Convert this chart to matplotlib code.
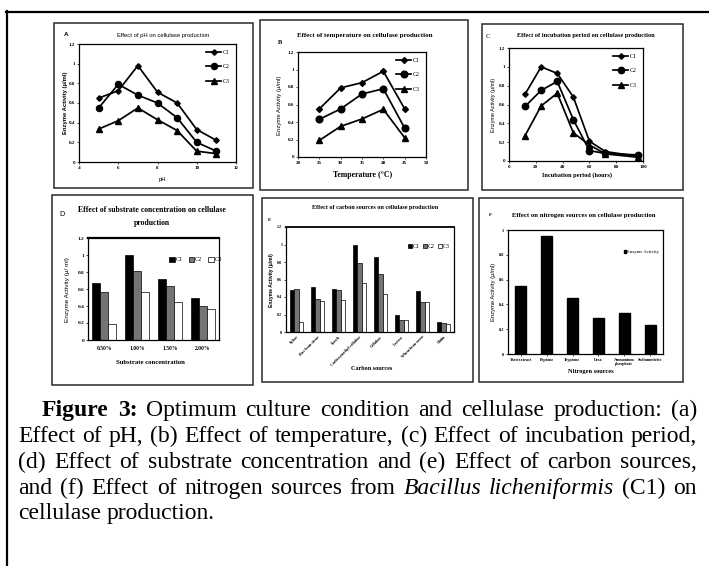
import matplotlib
matplotlib.use("Agg")
import matplotlib.pyplot as plt
from matplotlib.patches import Rectangle
from matplotlib.lines import Line2D
import numpy as np

# ---------------- data ----------------
ph = [5, 6, 7, 8, 9, 10, 11]
ph_c1 = [0.65, 0.725, 0.98, 0.71, 0.60, 0.33, 0.22]
ph_c2 = [0.55, 0.79, 0.68, 0.60, 0.45, 0.20, 0.11]
ph_c3 = [0.335, 0.42, 0.55, 0.43, 0.32, 0.11, 0.085]

temp = [25, 30, 35, 40, 45]
temp_c1 = [0.55, 0.79, 0.85, 0.98, 0.55]
temp_c2 = [0.43, 0.55, 0.72, 0.78, 0.33]
temp_c3 = [0.19, 0.35, 0.435, 0.545, 0.22]

hours = [12, 24, 36, 48, 60, 72, 96]
inc_c1 = [0.71, 1.0, 0.93, 0.68, 0.21, 0.10, 0.05]
inc_c2 = [0.58, 0.75, 0.845, 0.44, 0.11, 0.08, 0.065]
inc_c3 = [0.27, 0.585, 0.72, 0.30, 0.17, 0.075, 0.04]

substrate = ['0.50%', '1.00%', '1.50%', '2.00%']
sub_c1 = [0.67, 1.0, 0.715, 0.50]
sub_c2 = [0.57, 0.81, 0.63, 0.40]
sub_c3 = [0.19, 0.57, 0.45, 0.36]

carbon = ['Xylose', 'Rice bran straw', 'Starch', 'Carboxymethyl cellulose',
          'Cellulose', 'Lactose', 'Wheat bran straw', 'Chitin']
carb_c1 = [0.48, 0.52, 0.495, 0.99, 0.855, 0.195, 0.47, 0.115]
carb_c2 = [0.49, 0.38, 0.48, 0.79, 0.66, 0.135, 0.34, 0.10]
carb_c3 = [0.12, 0.35, 0.365, 0.555, 0.44, 0.14, 0.34, 0.09]

nitrogen = ['Yeastextract', 'Peptone', 'Tryptone', 'Urea',
            'Ammonium\nphosphate', 'Sodiumnitrite']
nit_activity = [0.545, 0.95, 0.45, 0.29, 0.333, 0.234]

series_names = ['C1', 'C2', 'C3']

# ---------------- figure ----------------
W, H = 709, 566
fig = plt.figure(figsize=(W / 100, H / 100), dpi=100)
fig.patch.set_facecolor('white')

SERIF = 'Liberation Serif'
SANS = 'Liberation Sans'


def fx(x):
    return x / W


def fy(y):
    return 1 - y / H


def add_axes_px(x0, y0, x1, y1):
    return fig.add_axes([x0 / W, 1 - y1 / H, (x1 - x0) / W, (y1 - y0) / H])


def frame_px(x0, y0, x1, y1, lw=1.1, color='#2a2a2a'):
    r = Rectangle((fx(x0), fy(y1)), (x1 - x0) / W, (y1 - y0) / H,
                  transform=fig.transFigure, fill=False, lw=lw, ec=color)
    fig.add_artist(r)


def txt(x, y, s, size=5, **kw):
    kw.setdefault('ha', 'center')
    kw.setdefault('va', 'center')
    kw.setdefault('family', SERIF)
    fig.text(fx(x), fy(y), s, fontsize=size, **kw)


def style_axes(ax, fs=3.6):
    for sp in ax.spines.values():
        sp.set_linewidth(0.9)
        sp.set_color('black')
    ax.tick_params(direction='out', length=1.5, width=0.5, labelsize=fs, pad=1.2)
    for lab in ax.get_xticklabels() + ax.get_yticklabels():
        lab.set_family(SERIF)
        lab.set_fontweight('bold')


# outer frame (top and left visible)
fig.add_artist(Line2D([fx(6), fx(709)], [fy(11.5), fy(11.5)], transform=fig.transFigure,
                      color='black', lw=1.6))
fig.add_artist(Line2D([fx(6.5), fx(6.5)], [fy(11), fy(566)], transform=fig.transFigure,
                      color='black', lw=1.6))

# panel frames
frame_px(54, 23, 253, 188)
frame_px(260, 20, 468, 190)
frame_px(482, 24, 683, 190)
frame_px(52, 195, 253, 385)
frame_px(262, 198, 473, 382)
frame_px(479, 198, 683, 382)


def line_panel(ax, x, ys, xlim, xticks, msizes):
    markers = ['D', 'o', '^']
    for y, m, ms, name in zip(ys, markers, msizes, series_names):
        ax.plot(x, y, color='black', lw=1.25, marker=m, ms=ms, label=name)
    ax.set_xlim(*xlim)
    ax.set_xticks(xticks)
    ax.set_ylim(0, 1.2)
    ax.set_yticks([0, 0.2, 0.4, 0.6, 0.8, 1.0, 1.2])
    ax.set_yticklabels(['0', '0.2', '0.4', '0.6', '0.8', '1', '1.2'])
    ax.set_xticklabels([str(v) for v in xticks])
    style_axes(ax)
    ax.legend(loc='upper right', frameon=False, handlelength=2.6,
              labelspacing=1.6, handletextpad=0.3, borderaxespad=0.6,
              prop={'family': SERIF, 'size': 4.2})


# ---------- A ----------
axA = add_axes_px(79, 44, 236, 162)
line_panel(axA, ph, [ph_c1, ph_c2, ph_c3], (4, 12), [4, 6, 8, 10, 12], [2.8, 4.4, 4.2])
txt(163, 35, 'Effect of pH on cellulase production', 4.2, family=SANS)
txt(66, 34, 'A', 4.5, family=SANS, fontweight='bold')
txt(162, 179, 'pH', 4.2, family=SANS)
txt(65.5, 103, 'Enzyme Activity (μ/ml)', 4.2, family=SANS, fontweight='bold', rotation=90)

# ---------- B ----------
axB = add_axes_px(298, 52, 426, 157)
line_panel(axB, temp, [temp_c1, temp_c2, temp_c3], (20, 50), [20, 25, 30, 35, 40, 45, 50],
           [3.0, 4.8, 4.4])
txt(365, 35, 'Effect of temperature on cellulase production', 5.0, fontweight='bold')
txt(280, 43, 'B', 4.6, fontweight='bold')
txt(363, 175, 'Temperature (°C)', 5.6, fontweight='bold')
txt(280, 105, 'Enzyme Activity (μ/ml)', 4.3, family=SANS, rotation=90)

# ---------- C ----------
axC = add_axes_px(509, 48, 643, 161)
line_panel(axC, hours, [inc_c1, inc_c2, inc_c3], (0, 100), [0, 20, 40, 60, 80, 100],
           [2.8, 4.6, 4.4])
txt(586, 35, 'Effect of incubation period on cellulase production', 4.6, fontweight='bold')
txt(488, 36, 'C', 4.6, style='italic')
txt(577, 175, 'Incubation period (hours)', 4.6, fontweight='bold')
txt(493, 105, 'Enzyme Activity (μ/ml)', 4.0, family=SANS, rotation=90)


def bar_panel(ax, cats, ys, width):
    colors = ['black', '#747474', 'white']
    n = len(ys)
    x = np.arange(len(cats))
    for i, (y, c, name) in enumerate(zip(ys, colors, series_names[:n])):
        ax.bar(x + (i - (n - 1) / 2) * width, y, width, color=c, edgecolor='black',
               lw=0.5, label=name)
    ax.set_xlim(-0.5, len(cats) - 0.5)
    ax.set_xticks(x)
    style_axes(ax)


# ---------- D ----------
axD = add_axes_px(88, 238, 219, 340)
bar_panel(axD, substrate, [sub_c1, sub_c2, sub_c3], 0.245)
axD.set_ylim(0, 1.2)
axD.set_yticks([0, 0.2, 0.4, 0.6, 0.8, 1.0, 1.2])
axD.set_yticklabels(['0', '0.2', '0.4', '0.6', '0.8', '1', '1.2'], family=SERIF,
                    fontweight='bold', fontsize=3.8)
axD.set_xticklabels(substrate, family=SERIF, fontweight='bold', fontsize=4.0)
axD.tick_params(axis='x', pad=4, length=0)
axD.spines['top'].set_linewidth(1.6)
axD.legend(loc='center', bbox_to_anchor=(0.82, 0.79), ncol=3, frameon=False,
           handlelength=0.9, handleheight=0.9, handletextpad=0.1, columnspacing=1.0,
           prop={'family': SERIF, 'size': 4.4})
txt(152, 210, 'Effect of substrate concentration on cellulase', 5.6, fontweight='bold')
txt(152, 223, 'production', 5.6, fontweight='bold')
txt(62, 215, 'D', 5.2, family=SANS)
txt(150, 362, 'Substrate concentration', 4.8, fontweight='bold')
txt(67, 290, 'Enzyme Activity (μ/ ml)', 4.6, family=SANS, rotation=90)

# ---------- E ----------
axE = add_axes_px(286, 227, 454, 332)
bar_panel(axE, carbon, [carb_c1, carb_c2, carb_c3], 0.22)
axE.set_ylim(0, 1.2)
axE.set_yticks([0, 0.2, 0.4, 0.6, 0.8, 1.0, 1.2])
axE.set_yticklabels(['0', '0.2', '0.4', '0.6', '0.8', '1', '1.2'], family=SERIF, fontsize=3.0)
axE.set_xticklabels(carbon, rotation=45, ha='right', rotation_mode='anchor',
                    family=SERIF, fontweight='bold', fontsize=2.8)
axE.tick_params(axis='x', length=0, pad=2)
axE.spines['top'].set_linewidth(1.3)
axE.legend(loc='center', bbox_to_anchor=(0.85, 0.81), ncol=3, frameon=False,
           handlelength=0.7, handleheight=0.7, handletextpad=0.1, columnspacing=0.6,
           prop={'family': SERIF, 'size': 4.2})
txt(375, 208, 'Effect of carbon sources on cellulase production', 4.4, fontweight='bold')
txt(270, 220, 'E', 3.6, fontweight='bold')
txt(372, 369, 'Carbon sources', 4.4, fontweight='bold')
txt(272, 280, 'Enzyme Activity (μ/ml)', 3.6, family=SANS, fontweight='bold', rotation=90)

# ---------- F ----------
axF = add_axes_px(508, 230, 663, 354)
xF = np.arange(len(nitrogen))
axF.bar(xF, nit_activity, 0.43, color='black', edgecolor='black', label='Enzyme Activity')
axF.set_xlim(-0.5, len(nitrogen) - 0.5)
axF.set_xticks(xF)
axF.set_ylim(0, 1.0)
axF.set_yticks([0, 0.2, 0.4, 0.6, 0.8, 1.0])
axF.set_yticklabels(['0', '0.2', '0.4', '0.6', '0.8', '1'])
style_axes(axF, fs=3.2)
axF.set_xticklabels(nitrogen, family=SERIF, fontweight='bold', fontsize=3.0, va='top',
                    linespacing=1.0)
axF.tick_params(axis='x', length=1.2, pad=1.5)
axF.legend(loc='center', bbox_to_anchor=(0.86, 0.82), frameon=False, handlelength=0.6,
           handleheight=0.6, handletextpad=0.1, prop={'family': SERIF, 'size': 3.4})
txt(584, 215, 'Effect on nitrogen sources on cellulase production', 4.9, fontweight='bold')
txt(490, 215, 'F', 3.6, fontweight='bold')
txt(591, 371, 'Nitrogen sources', 4.6, fontweight='bold')
txt(493, 292, 'Enzyme Activity (μ/ml)', 4.2, family=SANS, rotation=90)

# ---------------- caption (justified) ----------------
N, B, I = 'normal', 'bold', 'italic'
cap_lines = [
    [("Figure", B), ("3:", B), ("Optimum", N), ("culture", N), ("condition", N), ("and", N),
     ("cellulase", N), ("production:", N), ("(a)", N)],
    [(w, N) for w in "Effect of pH, (b) Effect of temperature, (c) Effect of incubation period,".split()],
    [(w, N) for w in "(d) Effect of substrate concentration and (e) Effect of carbon sources,".split()],
    [(w, N) for w in "and (f) Effect of nitrogen sources from".split()]
    + [("Bacillus", I), ("licheniformis", I), ("(C1)", N), ("on", N)],
    [("cellulase", N), ("production.", N)],
]
cap_starts = [42, 18, 18, 18, 18]
cap_right = 697
cap_baselines = [416, 442, 468, 494, 519]
renderer = fig.canvas.get_renderer()


def word_width(word, style, size):
    kw = dict(family=SERIF, fontsize=size)
    if style == B:
        kw['fontweight'] = 'bold'
    if style == I:
        kw['style'] = 'italic'
    t = fig.text(0, 0, word, **kw)
    w = t.get_window_extent(renderer).width
    t.remove()
    return w, kw


base = 10.0
best = 17.0
for li in range(4):
    ws = sum(word_width(w, s, base)[0] for w, s in cap_lines[li])
    nsp = len(cap_lines[li]) - 1
    avail = cap_right - cap_starts[li]
    em_base = base * 100 / 72
    size = base * avail / (ws + nsp * 0.15 * em_base)
    best = min(best, size)
cap_size = best

for li, words in enumerate(cap_lines):
    widths = []
    kws = []
    for w, s in words:
        ww, kw = word_width(w, s, cap_size)
        widths.append(ww)
        kws.append(kw)
    if li < 4:
        gap = (cap_right - cap_starts[li] - sum(widths)) / (len(words) - 1)
    else:
        gap = 0.25 * cap_size * 100 / 72
    x = cap_starts[li]
    for (w, s), ww, kw in zip(words, widths, kws):
        fig.text(fx(x), fy(cap_baselines[li]), w, ha='left', va='baseline', **kw)
        x += ww + gap

fig.savefig('out.png', dpi=100, facecolor='white')
